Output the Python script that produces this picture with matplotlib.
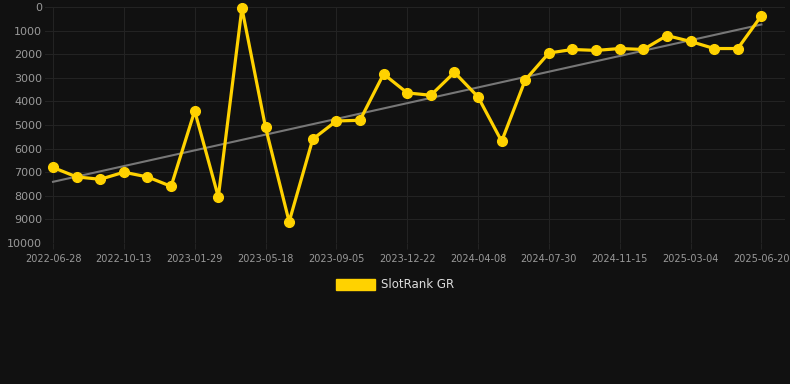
import matplotlib.pyplot as plt
import matplotlib.patches as mpatches
import numpy as np

# rank values (lower is better, y axis inverted)
ranks = [6800, 7200, 7300, 7000, 7200, 7600, 4400, 8050, 50, 5100,
         9100, 5600, 4830, 4800, 2840, 3640, 3740, 2770, 3810, 5690,
         3090, 1950, 1800, 1840, 1760, 1800, 1210, 1460, 1760, 1760, 370]
tick_labels = ['2022-06-28', '2022-10-13', '2023-01-29', '2023-05-18',
               '2023-09-05', '2023-12-22', '2024-04-08', '2024-07-30',
               '2024-11-15', '2025-03-04', '2025-06-20']
series_name = 'SlotRank GR'

bg = '#111111'
yellow = '#FFD200'

fig = plt.figure(figsize=(7.9, 3.84), dpi=100, facecolor=bg)
ax = fig.add_axes([45 / 790, 1 - 243 / 384, 740 / 790, 236 / 384], facecolor=bg)

x = np.arange(len(ranks))

# trend line from a simple linear fit
k, b = np.polyfit(x, ranks, 1)
ax.plot(x, k * x + b, color='#777777', lw=1.5, zorder=2)

ax.plot(x, ranks, color=yellow, lw=2.3, marker='o', ms=7,
        zorder=3, clip_on=False)

ax.set_ylim(10000, 0)
ax.set_yticks(range(0, 10001, 1000))
ax.set_xlim(-0.34, 31.0)
ax.set_xticks(x[::3])
ax.set_xticklabels(tick_labels)

ax.grid(True, color='#232323', lw=0.8)
ax.set_axisbelow(True)
for s in ax.spines.values():
    s.set_visible(False)
ax.tick_params(axis='y', colors='#999999', labelsize=8, length=0, pad=2)
ax.tick_params(axis='x', colors='#999999', labelsize=7, length=4, pad=4,
               color='#232323')

handle = mpatches.Patch(color=yellow, label=series_name)
fig.legend(handles=[handle], loc='center', bbox_to_anchor=(0.5, 1 - 285 / 384),
           frameon=False, fontsize=8.5, labelcolor='#dddddd',
           handlelength=3.3, handleheight=1.0, handletextpad=0.5)

fig.savefig('out.png', dpi=100, facecolor=bg)
